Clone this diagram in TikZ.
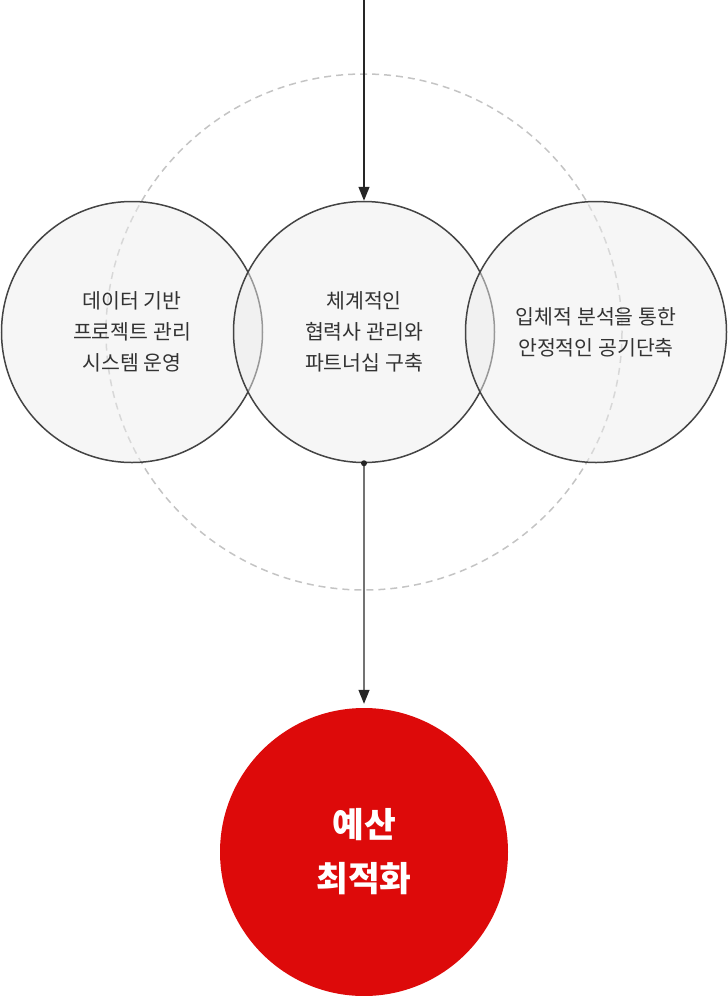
\documentclass[tikz,border=0pt]{standalone}
\usepackage{fontspec}
\usepackage{xcolor}
\usepackage{tikz}
\usetikzlibrary{positioning,arrows.meta}
\setmainfont{Noto Sans CJK KR}
\definecolor{ringgray}{RGB}{68,68,68}
\definecolor{dashgray}{RGB}{196,196,196}
\definecolor{budgetred}{RGB}{221,10,10}

\begin{document}
\begin{tikzpicture}[
  x=1pt, y=-1pt,
  area/.style={circle, draw=ringgray, line width=1.5pt, fill=black!7, fill opacity=0.5, text opacity=1,
    minimum size=261pt, inner sep=0pt, align=center, text=black!80, font=\fontsize{20.5}{31}\selectfont},
  goal/.style={circle, fill=budgetred, minimum size=288pt, inner sep=0pt, align=center,
    text=white, font=\fontsize{34.5}{54}\selectfont\bfseries},
  flow/.style={-{Triangle[width=11pt,length=14pt,color=black!85]}, line width=1.3pt}
]
\useasboundingbox (0,0) rectangle (728,996);
% outer dashed ring
\draw[dashgray, line width=1.5pt, dash pattern=on 7pt off 5pt] (364,332) circle[radius=258];

\node[area] (data) at (132,332) {데이터 기반\\프로젝트 관리\\시스템 운영};
\node[area] (partner) at (364,332) {체계적인\\협력사 관리와\\파트너십 구축};
\node[area] (analysis) at (596,332) {입체적 분석을 통한\\안정적인 공기단축};

\node[goal] (budget) at (364,852) {예산\\최적화};

\coordinate (entry) at (364,0);
\draw[flow, black!85] (entry) -- (partner.north);
\draw[flow, black!55] (partner.south) -- ([yshift=4pt]budget.north);
\fill[black!85] (partner.south) circle[radius=3pt];
\end{tikzpicture}
\end{document}
